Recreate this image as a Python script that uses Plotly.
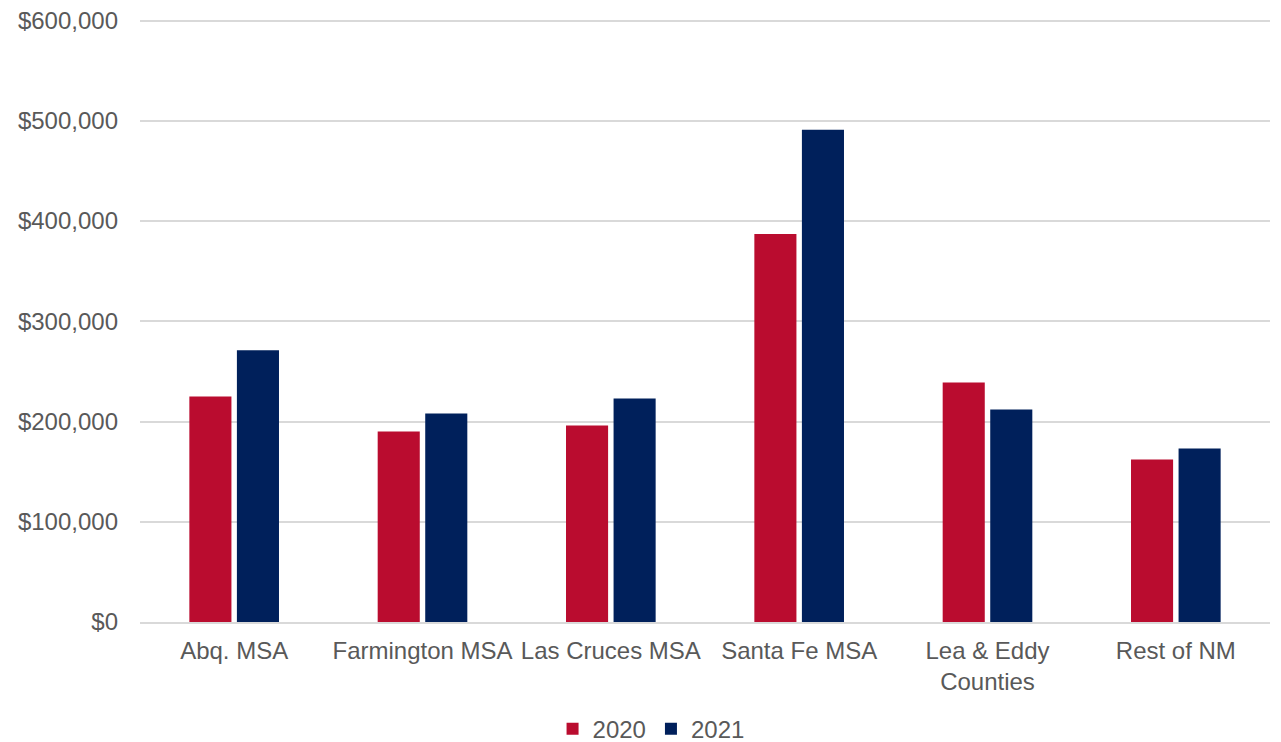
import plotly.graph_objects as go

categories = ["Abq. MSA", "Farmington MSA", "Las Cruces MSA", "Santa Fe MSA", "Lea & Eddy<br>Counties", "Rest of NM"]
values_2020 = [225000, 190000, 196000, 387000, 239000, 162000]
values_2021 = [271000, 208000, 223000, 491000, 212000, 173000]
tick_vals = [0, 100000, 200000, 300000, 400000, 500000, 600000]
tick_text = ["$0", "$100,000", "$200,000", "$300,000", "$400,000", "$500,000", "$600,000"]

font = dict(family="Liberation Sans, Arial, sans-serif", size=24, color="#595959")

fig = go.Figure()
fig.add_trace(go.Bar(name="2020", x=categories, y=values_2020, marker=dict(color="#BA0C2F", line=dict(width=0))))
fig.add_trace(go.Bar(name="2021", x=categories, y=values_2021, marker=dict(color="#00205B", line=dict(width=0))))

fig.update_layout(
    width=1281, height=742,
    margin=dict(l=132, r=19, t=11, b=128, autoexpand=False),
    paper_bgcolor="white", plot_bgcolor="white",
    font=font,
    barmode="group", bargap=0.495, bargroupgap=0.115,
    showlegend=True,
    legend=dict(orientation="h", xref="container", yref="container",
                x=0.502, xanchor="center", y=0.028, yanchor="middle",
                font=font, itemwidth=30, traceorder="normal"),
    xaxis=dict(showgrid=False, showline=True, linecolor="#D9D9D9", linewidth=1.5,
               ticks="", tickfont=font, ticklabelstandoff=6, automargin=False,
               ticklabeloverflow="allow"),
    yaxis=dict(range=[0, 601500], tickvals=tick_vals, ticktext=tick_text,
               showgrid=True, gridcolor="#D9D9D9", gridwidth=1.5, zeroline=False,
               showline=False, ticks="", tickfont=font, ticklabelstandoff=21, automargin=False,
               ticklabeloverflow="allow"),
)

fig.write_html("out.html")
